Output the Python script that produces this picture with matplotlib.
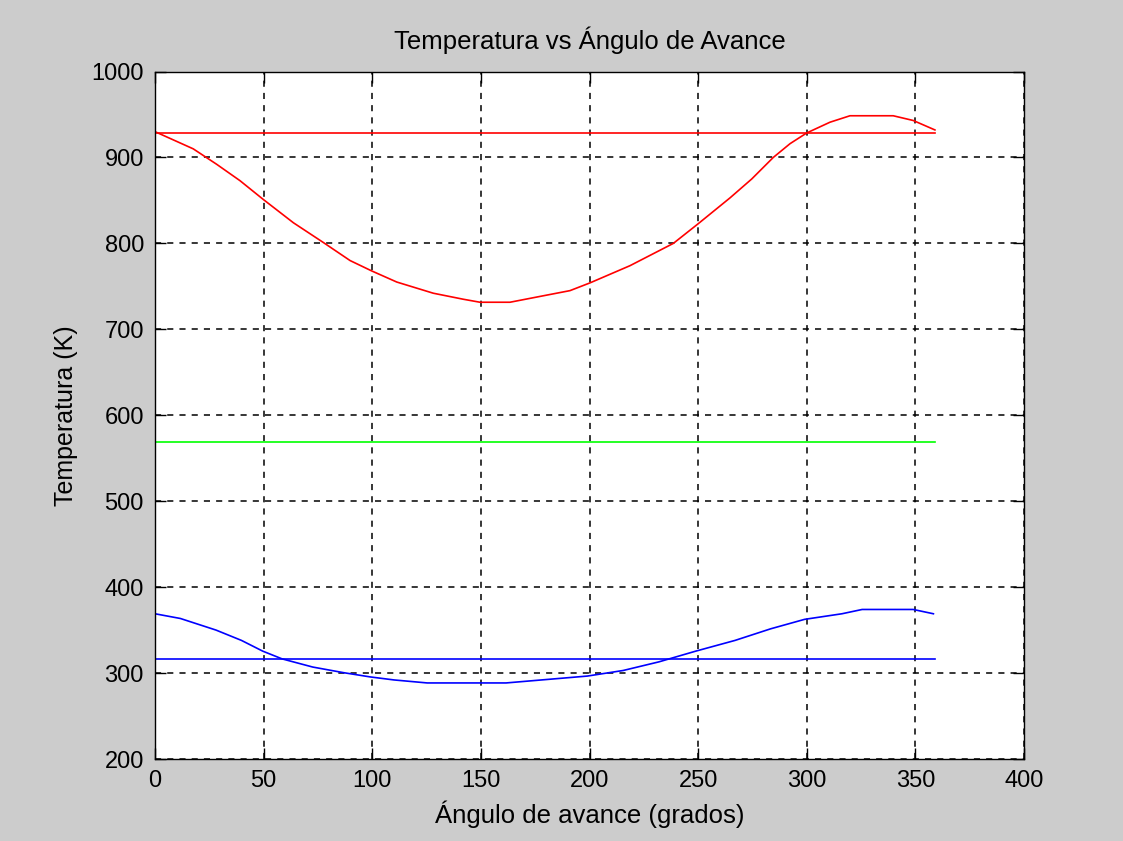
import matplotlib
matplotlib.use("Agg")
import matplotlib.pyplot as plt

# Data
ang_red = [0, 17.6, 28.4, 39.1, 49.9, 63.7, 77.5, 89.8, 99.7, 111.3, 128.1, 141.9, 149.6,
           163.4, 178.7, 191, 200.2, 218.6, 238.6, 250.1, 264.7, 274.7, 284.6, 292.3, 300,
           310.7, 319.9, 339.8, 349, 359]
T_red = [930, 910, 892, 873, 851, 824, 801, 780, 768, 755, 742, 735, 731.5,
         731.5, 739, 745, 754, 774, 800, 823, 853, 875, 900, 916, 928.5,
         941, 948.5, 948.5, 943, 932]
T_red_mean = 928.5

ang_blue = [0, 11.7, 28.1, 39.8, 49.6, 58.5, 72.6, 86.7, 99.1, 110, 125.3, 161.6, 175.6,
            199, 215.5, 231.9, 248.9, 267, 283.4, 299, 316.2, 325.5, 349, 358.3]
T_blue = [369, 363.5, 350, 338, 325.5, 316.5, 307, 300.5, 295.5, 292, 288.5, 288.5, 291.5,
          296.5, 303, 313, 325.5, 338, 351.5, 362.5, 369, 374, 374, 369]
T_blue_mean = 316

T_green = 569
ang_range = [0, 359]

xticks = [0, 50, 100, 150, 200, 250, 300, 350, 400]
yticks = [200, 300, 400, 500, 600, 700, 800, 900, 1000]

FONT = ['Liberation Sans', 'DejaVu Sans']

fig = plt.figure(figsize=(11.23, 8.41), dpi=100, facecolor='#cccccc')
ax = fig.add_axes([155/1123, (841-759)/841, (1024-155)/1123, (759-71.5)/841])
ax.set_facecolor('white')

ax.plot(ang_red, T_red, color='#ff0000', lw=1.2)
ax.plot(ang_range, [T_red_mean, T_red_mean], color='#ff0000', lw=1.2)
ax.plot(ang_range, [T_green, T_green], color='#00ff00', lw=1.2)
ax.plot(ang_blue, T_blue, color='#0000ff', lw=1.2)
ax.plot(ang_range, [T_blue_mean, T_blue_mean], color='#0000ff', lw=1.2)

ax.set_xlim(0, 400)
ax.set_ylim(200, 1000)
ax.set_xticks(xticks)
ax.set_yticks(yticks)
ax.grid(True, color='black', linestyle=(0, (4, 4)), linewidth=1.1)
ax.tick_params(direction='in', length=8, width=1, top=True, right=True, pad=8, colors='black')
for lab in ax.get_xticklabels() + ax.get_yticklabels():
    lab.set_family(FONT)
    lab.set_fontsize(17)
for s in ax.spines.values():
    s.set_linewidth(1.0)
    s.set_color('black')

ax.set_title('Temperatura vs Ángulo de Avance', family=FONT, fontsize=18.5, pad=16)
ax.set_xlabel('Ángulo de avance (grados)', family=FONT, fontsize=18.5, labelpad=6)
ax.set_ylabel('Temperatura (K)', family=FONT, fontsize=18, labelpad=10)

fig.savefig('out.png', dpi=100, facecolor=fig.get_facecolor())
